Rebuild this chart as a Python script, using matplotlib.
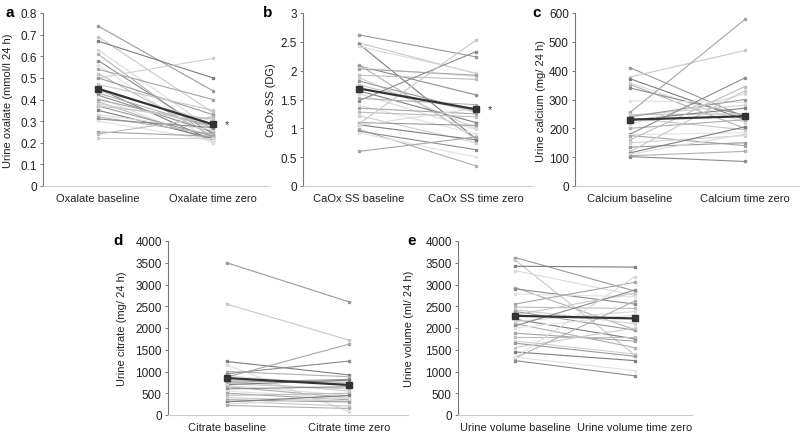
import matplotlib
matplotlib.use("Agg")
import matplotlib.pyplot as plt

plt.rcParams["font.family"] = ["Liberation Sans", "DejaVu Sans"]

# --- data (baseline -> time zero, one pair per patient) ---
ox_base = [0.74, 0.69, 0.67, 0.63, 0.61, 0.58, 0.56, 0.54, 0.52, 0.50, 0.50, 0.47, 0.45, 0.44, 0.43,
           0.42, 0.41, 0.40, 0.39, 0.38, 0.37, 0.37, 0.35, 0.33, 0.32, 0.31, 0.30, 0.25, 0.24, 0.22]
ox_zero = [0.44, 0.34, 0.50, 0.26, 0.22, 0.24, 0.20, 0.40, 0.23, 0.59, 0.33, 0.35, 0.21, 0.30, 0.27,
           0.25, 0.20, 0.28, 0.21, 0.29, 0.23, 0.31, 0.22, 0.26, 0.24, 0.27, 0.21, 0.23, 0.32, 0.22]
ox_mean = [0.45, 0.285]

ss_base = [2.62, 2.48, 2.46, 2.42, 2.10, 2.08, 2.05, 2.03, 1.92, 1.88, 1.82, 1.75, 1.65, 1.60, 1.52,
           1.48, 1.40, 1.35, 1.28, 1.22, 1.10, 1.08, 1.06, 1.05, 0.98, 0.95, 0.92, 0.60]
ss_zero = [2.24, 1.95, 0.82, 1.96, 0.82, 1.58, 1.90, 1.92, 1.85, 1.00, 1.30, 1.28, 1.10, 0.98, 1.41,
           2.33, 0.90, 1.25, 1.20, 0.75, 1.05, 2.53, 0.80, 1.35, 0.35, 0.63, 0.50, 0.85]
ss_mean = [1.69, 1.33]

ca_base = [410, 378, 372, 358, 352, 340, 295, 255, 248, 245, 240, 235, 228, 215, 200, 180, 178, 175,
           160, 150, 135, 120, 115, 110, 105, 102]
ca_zero = [240, 470, 230, 220, 200, 245, 290, 578, 250, 280, 300, 195, 270, 320, 230, 375, 185, 140,
           345, 175, 150, 330, 205, 180, 120, 85]
ca_mean = [230, 242]

ci_base = [3500, 2550, 1230, 1150, 1000, 950, 900, 870, 800, 780, 750, 720, 700, 680, 650, 600, 550,
           500, 450, 400, 350, 320, 300, 250, 220]
ci_zero = [2600, 1720, 920, 80, 880, 1240, 700, 1630, 750, 550, 820, 600, 800, 450, 400, 650, 380,
           350, 500, 320, 300, 200, 450, 400, 150]
ci_mean = [850, 690]

vo_base = [3620, 3560, 3420, 3320, 2930, 2900, 2780, 2550, 2480, 2420, 2380, 2300, 2200, 2150, 2100,
           2050, 2000, 1880, 1800, 1700, 1650, 1550, 1450, 1330, 1310, 1250, 1330]
vo_zero = [2850, 1380, 3400, 2750, 1960, 2550, 2720, 3050, 2450, 2100, 1950, 2800, 1750, 2380, 1550,
           2870, 2300, 1700, 1800, 1400, 1350, 2000, 1250, 3180, 2620, 900, 1020]
vo_mean = [2280, 2220]

panels = [
    dict(letter="a", base=ox_base, zero=ox_zero, mean=ox_mean, ymax=0.8, step=0.1,
         ylabel="Urine oxalate (mmol/l 24 h)", cats=["Oxalate baseline", "Oxalate time zero"],
         star=True, rect=[43, 14, 225, 173], lx=10, labx=8),
    dict(letter="b", base=ss_base, zero=ss_zero, mean=ss_mean, ymax=3, step=0.5,
         ylabel="CaOx SS (DG)", cats=["CaOx SS baseline", "CaOx SS time zero"],
         star=True, rect=[303, 14, 229, 173], lx=268, labx=271),
    dict(letter="c", base=ca_base, zero=ca_zero, mean=ca_mean, ymax=600, step=100,
         ylabel="Urine calcium (mg/ 24 h)", cats=["Calcium baseline", "Calcium time zero"],
         star=False, rect=[575, 14, 225, 173], lx=537, labx=541),
    dict(letter="d", base=ci_base, zero=ci_zero, mean=ci_mean, ymax=4000, step=500,
         ylabel="Urine citrate (mg/ 24 h)", cats=["Citrate baseline", "Citrate time zero"],
         star=False, rect=[168, 242, 240, 174], lx=118, labx=122),
    dict(letter="e", base=vo_base, zero=vo_zero, mean=vo_mean, ymax=4000, step=500,
         ylabel="Urine volume (ml/ 24 h)", cats=["Urine volume baseline", "Urine volume time zero"],
         star=False, rect=[458, 242, 234, 174], lx=412, labx=409),
]

grays = ["#9a9a9a", "#c8c8c8", "#7d7d7d", "#dadada", "#b0b0b0", "#8c8c8c", "#e2e2e2", "#a5a5a5",
         "#bdbdbd", "#d0d0d0"]

W, H = 800, 435
fig = plt.figure(figsize=(8, 4.35), dpi=100)

for p in panels:
    l, t, w, h = p["rect"]
    ax = fig.add_axes([l / W, 1 - (t + h) / H, w / W, h / H])
    for i, (b, z) in enumerate(zip(p["base"], p["zero"])):
        c = grays[i % len(grays)]
        ax.plot([0, 1], [b, z], color=c, lw=0.8, marker="s", ms=1.8, mec=c, mfc=c)
    ax.plot([0, 1], p["mean"], color="#333333", lw=1.6, marker="s", ms=5, zorder=5)
    if p["star"]:
        ax.text(1.1, p["mean"][1], "*", fontsize=8, color="#333333", ha="left", va="center")
    ax.set_xlim(-0.48, 1.48)
    ax.set_ylim(0, p["ymax"])
    n = int(round(p["ymax"] / p["step"]))
    ticks = [k * p["step"] for k in range(n + 1)]
    ax.set_yticks(ticks)
    ax.set_yticklabels(["%g" % round(v, 2) for v in ticks])
    ax.set_xticks([0, 1])
    ax.set_xticklabels(p["cats"])
    for s in ["top", "right"]:
        ax.spines[s].set_visible(False)
    ax.spines["left"].set_color("#777777")
    ax.spines["bottom"].set_color("#cccccc")
    ax.tick_params(axis="y", length=2.5, width=0.7, color="#777777", labelsize=8.5,
                   labelcolor="#222222", pad=2)
    ax.tick_params(axis="x", length=0, labelsize=8, labelcolor="#222222", pad=5)
    fig.text(p["labx"] / W, 1 - (t + h / 2) / H, p["ylabel"], rotation=90, fontsize=8,
             color="#222222", ha="center", va="center")
    fig.text(p["lx"] / W, 1 - (t - 1) / H, p["letter"], fontsize=11, fontweight="bold",
             ha="center", va="center")

fig.savefig("out.png", dpi=100)
